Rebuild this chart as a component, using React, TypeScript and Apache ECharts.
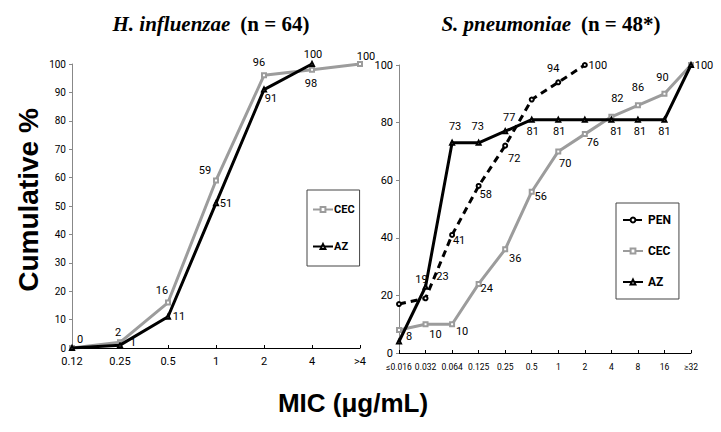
import React, { useEffect, useRef } from "react";
import * as echarts from "echarts";

// ---- data ----
const hiCats = ["0.12", "0.25", "0.5", "1", "2", "4", ">4"];
const hiCEC = [0, 2, 16, 59, 96, 98, 100];
const hiAZ = [0, 1, 11, 51, 91, 100, null];

const spCats = ["≤0.016", "0.032", "0.064", "0.125", "0.25", "0.5", "1", "2", "4", "8", "16", "≥32"];
const spPEN = [17, 19, 41, 58, 72, 88, 94, 100, null, null, null, null];
const spCEC = [8, 10, 10, 24, 36, 56, 70, 76, 82, 86, 90, 100];
const spAZ = [4, 23, 73, 73, 77, 81, 81, 81, 81, 81, 81, 100];

const hiTicks = [0, 10, 20, 30, 40, 50, 60, 70, 80, 90, 100];
const spTicks = [0, 20, 40, 60, 80, 100];

// ---- label offsets (styling only; null = no label) ----
type Off = [number, number] | null;
const hiCECOff: Off[] = [[8, -9], [-2, -10], [-6, -12], [-11, -10], [-5, -13], [-1, 14], [6, -8]];
const hiAZOff: Off[] = [null, [13, -3], [11, 0], [10, 0], [7, 9], [1, -10], null];
const spPENOff: Off[] = [null, [-4, -19], [7, 6], [7, 9], [9, 13], null, [-5, -14], [13, 0], null, null, null, null];
const spCECOff: Off[] = [[10, 7], [10, 10], [10, 7], [8, 5], [10, 9], [9, 5], [7, 12], [8, 8], [6, -18], [0, -18], [-2, -16], [13, 0]];
const spAZOff: Off[] = [null, [17, -10], [3, -16], [-1, -16], [4, -14], [1, 12], [1, 12], null, [5, 12], [2, 12], [0, 12], null];

const NARROW = "Roboto, 'Liberation Sans Narrow', Arial, sans-serif";
const SANS = "'Liberation Sans', Arial, Helvetica, sans-serif";
const SERIF = "'Liberation Serif', 'Times New Roman', serif";

const GREY = "#9c9c9c";

function buildData(values: (number | null)[], offs: Off[]) {
  return values.map((v, i) => {
    if (v == null) return "-";
    const o = offs[i];
    return {
      value: v,
      label: o ? { show: true, position: "inside", offset: o } : { show: false },
    };
  });
}

function mkSeries(
  name: string,
  values: (number | null)[],
  offs: Off[],
  idx: number,
  color: string,
  symbol: string,
  dashed: boolean
) {
  return {
    name,
    type: "line",
    xAxisIndex: idx,
    yAxisIndex: idx,
    data: buildData(values, offs),
    symbol,
    symbolSize: 4,
    showAllSymbol: true,
    connectNulls: false,
    itemStyle: { color, borderWidth: 1 },
    lineStyle: { color, width: 3, type: dashed ? [7, 5] : "solid" },
    label: {
      show: false,
      color: "#000",
      fontSize: 11,
      fontFamily: NARROW,
      formatter: "{c}",
    },
    emphasis: { disabled: true },
    z: name === "CEC" ? 2 : 3,
  };
}

export default function App() {
  const ref = useRef<HTMLDivElement>(null);

  useEffect(() => {
    if (!ref.current) return;
    const chart = echarts.init(ref.current, undefined, { renderer: "svg" });

    const axisLabel = { color: "#000", fontSize: 10, fontFamily: NARROW };
    const titleRich = {
      i: { fontFamily: SERIF, fontStyle: "italic", fontWeight: "bold", fontSize: 21, color: "#000" },
      b: { fontFamily: SERIF, fontWeight: "bold", fontSize: 21, color: "#000" },
    };

    const option: any = {
      animation: false,
      backgroundColor: "#fff",
      title: [
        {
          text: "{i|H. influenzae}  {b|(n = 64)}",
          left: 206,
          top: 8,
          textAlign: "center",
          textStyle: { rich: titleRich },
        },
        {
          text: "{i|S. pneumoniae}  {b|(n = 48*)}",
          left: 546,
          top: 8,
          textAlign: "center",
          textStyle: { rich: titleRich },
        },
      ],
      grid: [
        { left: 72, top: 64, width: 288, height: 284 },
        { left: 399, top: 65, width: 292, height: 288 },
      ],
      xAxis: [
        {
          gridIndex: 0,
          type: "category",
          data: hiCats,
          boundaryGap: false,
          axisLine: { lineStyle: { color: "#000", width: 1 } },
          axisTick: { inside: true, length: 3, lineStyle: { color: "#000" } },
          axisLabel: { ...axisLabel, fontSize: 11, margin: 8, interval: 0 },
        },
        {
          gridIndex: 1,
          type: "category",
          data: spCats,
          boundaryGap: false,
          axisLine: { lineStyle: { color: "#000", width: 1 } },
          axisTick: { inside: true, length: 3, lineStyle: { color: "#000" } },
          axisLabel: { ...axisLabel, fontSize: 8.5, margin: 9, interval: 0 },
        },
      ],
      yAxis: [
        {
          gridIndex: 0,
          type: "value",
          min: hiTicks[0],
          max: hiTicks[hiTicks.length - 1],
          interval: hiTicks[1] - hiTicks[0],
          axisLine: { show: true, lineStyle: { color: "#888" } },
          axisTick: { show: true, length: 3, lineStyle: { color: "#888" } },
          splitLine: { show: false },
          axisLabel: { ...axisLabel, margin: 6 },
        },
        {
          gridIndex: 1,
          type: "value",
          min: spTicks[0],
          max: spTicks[spTicks.length - 1],
          interval: spTicks[1] - spTicks[0],
          axisLine: { show: true, lineStyle: { color: "#888" } },
          axisTick: { show: true, length: 3, lineStyle: { color: "#888" } },
          splitLine: { show: false },
          axisLabel: { ...axisLabel, fontSize: 11, margin: 6 },
        },
      ],
      legend: [
        {
          data: ["CEC", "AZ"],
          orient: "vertical",
          left: 307,
          top: 190,
          padding: [14, 5, 14, 5],
          itemGap: 26,
          itemWidth: 20,
          itemHeight: 6,
          borderColor: "#444",
          borderWidth: 1,
          selectedMode: false,
          textStyle: { color: "#000", fontSize: 11, fontWeight: "bold", fontFamily: NARROW, padding: [0, 0, 0, -4] },
        },
        {
          data: ["PEN", "CEC", "AZ"],
          orient: "vertical",
          left: 616,
          top: 203,
          padding: [11, 8, 11, 6],
          itemGap: 19,
          itemWidth: 20,
          itemHeight: 6,
          borderColor: "#444",
          borderWidth: 1,
          selectedMode: false,
          textStyle: { color: "#000", fontSize: 12, fontWeight: "bold", fontFamily: NARROW },
        },
      ],
      graphic: [
        {
          type: "text",
          x: 28,
          y: 200,
          rotation: Math.PI / 2,
          style: {
            text: "Cumulative %",
            font: "bold 28px " + SANS,
            fill: "#000",
            textAlign: "center",
            textVerticalAlign: "middle",
          },
        },
        {
          type: "text",
          x: 353,
          y: 403,
          style: {
            text: "MIC (μg/mL)",
            font: "bold 26px " + SANS,
            fill: "#000",
            textAlign: "center",
            textVerticalAlign: "middle",
          },
        },
      ],
      series: [
        mkSeries("CEC", hiCEC, hiCECOff, 0, GREY, "emptyRect", false),
        mkSeries("AZ", hiAZ, hiAZOff, 0, "#000", "emptyTriangle", false),
        mkSeries("PEN", spPEN, spPENOff, 1, "#000", "emptyCircle", true),
        mkSeries("CEC", spCEC, spCECOff, 1, GREY, "emptyRect", false),
        mkSeries("AZ", spAZ, spAZOff, 1, "#000", "emptyTriangle", false),
      ],
    };

    chart.setOption(option);
    return () => chart.dispose();
  }, []);

  return (
    <div
      ref={ref}
      style={{ position: "fixed", left: 0, top: 0, width: 721, height: 432, background: "#fff" }}
    />
  );
}
